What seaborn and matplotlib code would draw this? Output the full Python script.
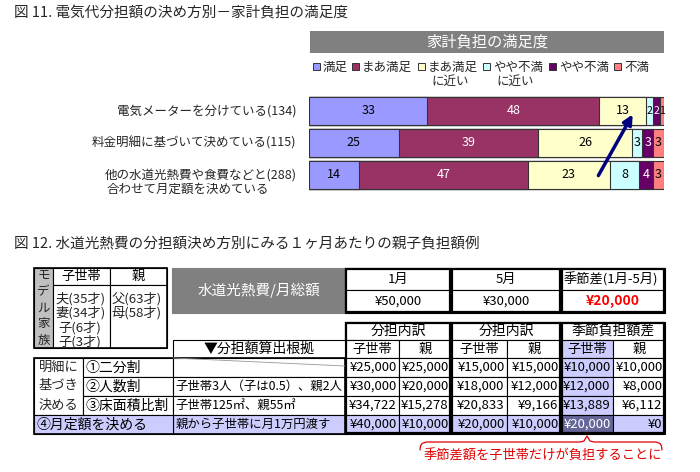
import numpy as np
import pandas as pd
import matplotlib
matplotlib.use("Agg")
import matplotlib.pyplot as plt
from matplotlib.patches import Rectangle
import seaborn as sns

sns.set_theme(style="white")
plt.rcParams['font.family'] = ['Noto Sans CJK JP', 'DejaVu Sans']

# ---------------------------------------------------------------
# data: fig 11 (satisfaction by how the electricity share is decided)
# ---------------------------------------------------------------
levels = ["満足", "まあ満足", "まあ満足\nに近い", "やや不満\nに近い", "やや不満", "不満"]
level_colors = ["#9999FF", "#993366", "#FFFFCC", "#CCFFFF", "#660066", "#FF8080"]
methods = ["電気メーターを分けている(134)",
           "料金明細に基づいて決めている(115)",
           "他の水道光熱費や食費などと(288)"]
method_note = "合わせて月定額を決めている"
meter = [33, 48, 13, 2, 2, 1]
statement = [25, 39, 26, 3, 3, 3]
fixed_sum = [14, 47, 23, 8, 4, 3]

# ---------------------------------------------------------------
# data: fig 12 (example of monthly parent / child shares)
# ---------------------------------------------------------------
model_child = ["夫(35才)", "妻(34才)", "子(6才)", "子(3才)"]
model_parent = ["父(63才)", "母(58才)"]
months = ["1月", "5月", "季節差(1月-5月)"]
monthly_total = [50000, 30000, 20000]
rule_names = ["①二分割", "②人数割", "③床面積比割"]
rule_basis = ["", "子世帯3人（子は0.5）、親2人", "子世帯125㎡、親55㎡", "親から子世帯に月1万円渡す"]
jan_child = [25000, 30000, 34722, 40000]
jan_parent = [25000, 20000, 15278, 10000]
may_child = [15000, 18000, 20833, 20000]
may_parent = [15000, 12000, 9166, 10000]
diff_child = [10000, 12000, 13889, 20000]
diff_parent = [10000, 8000, 6112, 0]

W, H = 700, 472
fig = plt.figure(figsize=(7, 4.72), dpi=100)
bg = fig.add_axes([0, 0, 1, 1])
bg.set_xlim(0, W)
bg.set_ylim(H, 0)
bg.axis('off')


def fax(x0, y0, x1, y1):
    return [x0 / W, 1 - y1 / H, (x1 - x0) / W, (y1 - y0) / H]


# ---------------------------------------------------------------
# Fig 11
# ---------------------------------------------------------------
bg.text(14, 14, "図 11. 電気代分担額の決め方別－家計負担の満足度", fontsize=10.5, va='center')
bg.add_patch(Rectangle((310, 31), 354, 22, fc="#808080", ec="none"))
bg.text(487, 42, "家計負担の満足度", color="white", fontsize=11, ha='center', va='center')

leg_x = [313, 352, 418, 483, 549, 614]
for lx, lab, c in zip(leg_x, levels, level_colors):
    bg.add_patch(Rectangle((lx, 63), 7, 7, fc=c, ec="#333333", lw=0.7))
    lines = lab.split("\n")
    bg.text(lx + 10, 67, lines[0], fontsize=9, va='center')
    if len(lines) > 1:
        bg.text(lx + 13, 81, lines[1], fontsize=9, va='center')

shares = pd.DataFrame([meter, statement, fixed_sum], index=methods, columns=levels)
cum = shares.cumsum(axis=1)

ax = fig.add_axes(fax(309, 95, 664, 191))
for k in reversed(range(len(levels))):
    sns.barplot(x=cum.iloc[:, k].values, y=list(range(len(methods))), orient='h',
                color=level_colors[k], saturation=1, width=0.875,
                edgecolor="#333333", linewidth=0.8, ax=ax)
ax.set_xlim(0, 99)
ax.set_ylim(2.5, -0.5)
ax.axis('off')
for i, m in enumerate(methods):
    for k in range(len(levels)):
        v = shares.iloc[i, k]
        mid = cum.iloc[i, k] - v / 2
        tc = "white" if k in (1, 4) else "black"
        ax.text(mid, i, str(v), color=tc, fontsize=9 if v > 2 else 7.5,
                ha='center', va='center')
    ax.text(-3.5, i, m, fontsize=9, ha='right', va='center')
ax.text(-56.5, 2.45, method_note, fontsize=9, ha='left', va='center')

# arrow overlay
ov = fig.add_axes([0, 0, 1, 1])
ov.set_xlim(0, W)
ov.set_ylim(H, 0)
ov.axis('off')
ov.annotate("", xy=(634, 112), xytext=(597, 178),
            arrowprops=dict(arrowstyle="-|>", color="#000080", lw=2.5, mutation_scale=14))

# ---------------------------------------------------------------
# Fig 12 (table)
# ---------------------------------------------------------------
bg.text(14, 244, "図 12. 水道光熱費の分担額決め方別にみる１ヶ月あたりの親子負担額例",
        fontsize=10.5, va='center')


def cell(x0, y0, x1, y1, text="", fc="white", tc="black", ha="center",
         size=9.5, weight="normal", lw=0.8, ec="black"):
    bg.add_patch(Rectangle((x0, y0), x1 - x0, y1 - y0, fc=fc, ec=ec, lw=lw))
    if text:
        tx = {"center": (x0 + x1) / 2, "left": x0 + 2.5, "right": x1 - 2.5}[ha]
        bg.text(tx, (y0 + y1) / 2, text, color=tc, fontsize=size, ha=ha,
                va='center', fontweight=weight)


# model family box
cell(34, 268, 53, 348, fc="#C0C0C0")
for j, ch in enumerate("モデル家族"):
    bg.text(43.5, 276 + j * 16, ch, fontsize=9, ha='center', va='center')
cell(53, 268, 110, 285, "子世帯")
cell(110, 268, 167, 285, "親")
bg.add_patch(Rectangle((53, 285), 57, 63, fc="white", ec="black", lw=0.8))
bg.add_patch(Rectangle((110, 285), 57, 63, fc="white", ec="black", lw=0.8))
for j, t in enumerate(model_child):
    bg.text(55 if j < 2 else 58, 298.5 + j * 14.5, t, fontsize=9.5, va='center')
for j, t in enumerate(model_parent):
    bg.text(112, 298.5 + j * 14.5, t, fontsize=9.5, va='center')
bg.add_patch(Rectangle((34, 268), 133, 80, fill=False, ec="black", lw=1.2))

# monthly total block
cell(172, 268, 345, 313, "水道光熱費/月総額", fc="#808080", tc="white", size=10.5, ec="#808080")
top_edges = [345, 451, 561, 665]
for g in range(3):
    x0, x1 = top_edges[g], top_edges[g + 1]
    cell(x0, 268, x1, 290, months[g], ha="left" if g == 2 else "center")
    red = g == 2
    cell(x0, 290, x1, 313, f"¥{monthly_total[g]:,}", tc="red" if red else "black",
         weight="bold" if red else "normal", size=10 if red else 9.5)
    bg.add_patch(Rectangle((x0 + 1, 269), x1 - x0 - 2, 43, fill=False, ec="black", lw=1.6))

# breakdown block
col_edges = [345, 399, 451, 507, 561, 613, 665]
row_edges = [358, 377, 396, 415, 434]
groups = ["分担内訳", "分担内訳", "季節負担額差"]
lav, dark = "#CCCCFF", "#666699"
for g in range(3):
    cell(col_edges[2 * g], 322, col_edges[2 * g + 2], 340, groups[g], size=10)
    for s, lab in enumerate(["子世帯", "親"]):
        c = 2 * g + s
        cell(col_edges[c], 340, col_edges[c + 1], 358, lab,
             fc=lav if c == 4 else "white")

cols = [jan_child, jan_parent, may_child, may_parent, diff_child, diff_parent]
for r in range(4):
    for c, vals in enumerate(cols):
        fc, tc = "white", "black"
        if c == 4 or r == 3:
            fc = lav
        if c == 4 and r == 3:
            fc, tc = dark, "white"
        cell(col_edges[c], row_edges[r], col_edges[c + 1], row_edges[r + 1],
             f"¥{vals[r]:,}", fc=fc, tc=tc, ha="right")

for g in range(3):
    x0, x1 = col_edges[2 * g], col_edges[2 * g + 2]
    bg.add_patch(Rectangle((x0 + 1, 323), x1 - x0 - 2, 110, fill=False, ec="black", lw=1.6))

# left side of the breakdown block
cell(173, 340, 345, 358, "▼分担額算出根拠", size=10)
cell(34, 358, 83, 415)
for j, t in enumerate(["明細に", "基づき", "決める"]):
    bg.text(58.5, 367 + j * 19, t, fontsize=9.5, ha='center', va='center')
for r, t in enumerate(rule_names):
    cell(83, row_edges[r], 173, row_edges[r + 1], t, ha="left", size=10)
for r, t in enumerate(rule_basis):
    cell(173, row_edges[r], 345, row_edges[r + 1], t, ha="left",
         fc=lav if r == 3 else "white", size=8.9)
bg.plot([173, 345], [358, 366], color="#999999", lw=0.6)
cell(34, 415, 173, 434, "④月定額を決める", fc=lav, ha="left", size=10)
bg.add_patch(Rectangle((34, 358), 311, 76, fill=False, ec="black", lw=1.2))

# red brace + note
bx = [420, 420.5, 422, 426, 580, 584, 587, 590, 594, 656, 660, 661.5, 662]
by = [450, 446, 443.5, 442, 442, 441, 436, 441, 442, 442, 443.5, 446, 450]
bg.plot(bx, by, color="#E00000", lw=0.9)
bg.text(543, 456, "季節差額を子世帯だけが負担することに", color="#E00000",
        fontsize=9.5, ha='center', va='center')

fig.savefig("out.png", dpi=100)
